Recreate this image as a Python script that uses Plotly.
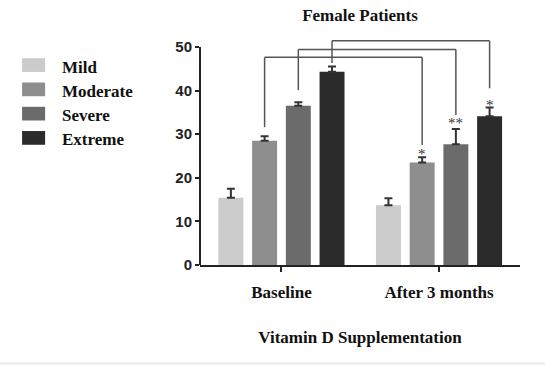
import plotly.graph_objects as go

groups = ["Baseline", "After 3 months"]
severities = ["Mild", "Moderate", "Severe", "Extreme"]
colors = ["#cbcbcb", "#8e8e8e", "#6b6b6b", "#2b2b2b"]

means = {
    "Mild": [15.4, 13.7],
    "Moderate": [28.5, 23.5],
    "Severe": [36.5, 27.7],
    "Extreme": [44.3, 34.1],
}
errors = {
    "Mild": [2.1, 1.6],
    "Moderate": [1.0, 1.2],
    "Severe": [0.8, 3.5],
    "Extreme": [1.2, 2.0],
}

# significance brackets: (severity, left start y, bracket top y, right end y, label, label y)
brackets = [
    ("Moderate", 31.6, 47.6, 27.5, "*", 26.3),
    ("Severe", 40.1, 49.4, 34.4, "**", 33.4),
    ("Extreme", 46.3, 51.4, 40.5, "*", 37.6),
]
y_ticks = [0, 10, 20, 30, 40, 50]

BARGAP = 0.144
BARGROUPGAP = 0.26
slot = (1 - BARGAP) / len(severities)


def offset(sev):
    i = severities.index(sev)
    return (i - (len(severities) - 1) / 2) * slot


fig = go.Figure()
for sev, col in zip(severities, colors):
    fig.add_trace(go.Bar(
        x=groups, y=means[sev], name=sev,
        marker=dict(color=col, line=dict(width=0)),
        error_y=dict(type="data", symmetric=False, array=errors[sev],
                     arrayminus=[0] * len(groups), color="#333333",
                     thickness=2, width=4),
        showlegend=False,
    ))

shapes = []
annotations = []
for sev, y_start, y_top, y_end, label, label_y in brackets:
    xl = 0 + offset(sev)
    xr = 1 + offset(sev)
    line = dict(color="#555555", width=1.5)
    shapes.append(dict(type="line", xref="x", yref="y", x0=xl, x1=xl, y0=y_start, y1=y_top, line=line))
    shapes.append(dict(type="line", xref="x", yref="y", x0=xl, x1=xr, y0=y_top, y1=y_top, line=line))
    shapes.append(dict(type="line", xref="x", yref="y", x0=xr, x1=xr, y0=y_top, y1=y_end, line=line))
    annotations.append(dict(x=xr, y=label_y, xref="x", yref="y", text=label, showarrow=False,
                            font=dict(family="Liberation Serif", size=15, color="#333333"),
                            yanchor="middle", yshift=-4))

# y axis line only up to 50
shapes.append(dict(type="line", xref="paper", yref="y", x0=0, x1=0, y0=0, y1=50,
                   line=dict(color="#222222", width=2)))

# custom legend on the left
leg_top = 0.873
leg_step = 0.106
for i, (sev, col) in enumerate(zip(severities, colors)):
    yc = leg_top - i * leg_step
    shapes.append(dict(type="rect", xref="paper", yref="paper",
                       x0=-0.556, x1=-0.484, y0=yc - 0.03, y1=yc + 0.03,
                       fillcolor=col, line=dict(width=0)))
    annotations.append(dict(x=-0.437, y=yc, xref="paper", yref="paper", text="<b>" + sev + "</b>",
                            showarrow=False, xanchor="left", yanchor="middle", yshift=-2,
                            font=dict(family="Liberation Serif", size=17, color="#111111")))

# light strip at the bottom
shapes.append(dict(type="rect", xref="paper", yref="paper", x0=-0.63, x1=1.08,
                   y0=-0.44, y1=-0.424, fillcolor="#f0f0f0", line=dict(width=0), layer="below"))

fig.update_layout(
    width=545, height=365,
    margin=dict(l=200, r=25, t=36, b=100),
    paper_bgcolor="white", plot_bgcolor="white",
    barmode="group", bargap=BARGAP, bargroupgap=BARGROUPGAP,
    title=dict(text="<b>Female Patients</b>", x=0.5, xref="paper", xanchor="center",
               y=1 - 15 / 365, yanchor="middle",
               font=dict(family="Liberation Serif", size=17, color="#111111")),
    xaxis=dict(
        range=[-0.517, 1.514], showline=True, linecolor="#222222", linewidth=2,
        ticks="outside", ticklen=5, tickwidth=2, tickcolor="#222222",
        ticklabelstandoff=6,
        tickfont=dict(family="Liberation Serif", size=17, color="#111111"),
        tickvals=groups, ticktext=["<b>" + g + "</b>" for g in groups],
        title=dict(text="<b>Vitamin D Supplementation</b>", standoff=30,
                   font=dict(family="Liberation Serif", size=17, color="#111111")),
        showgrid=False, zeroline=False,
    ),
    yaxis=dict(
        range=[0, 52.5], showline=False, tickvals=y_ticks,
        ticktext=["<b>%d</b>" % v for v in y_ticks],
        ticks="outside", ticklen=4, tickwidth=2, tickcolor="#222222",
        tickfont=dict(family="Liberation Sans", size=15, color="#222222"),
        showgrid=False, zeroline=False,
    ),
    shapes=shapes,
    annotations=annotations,
)

fig.write_html("out.html", config={"displayModeBar": False, "staticPlot": True},
               post_script="document.body.style.margin='0';")
